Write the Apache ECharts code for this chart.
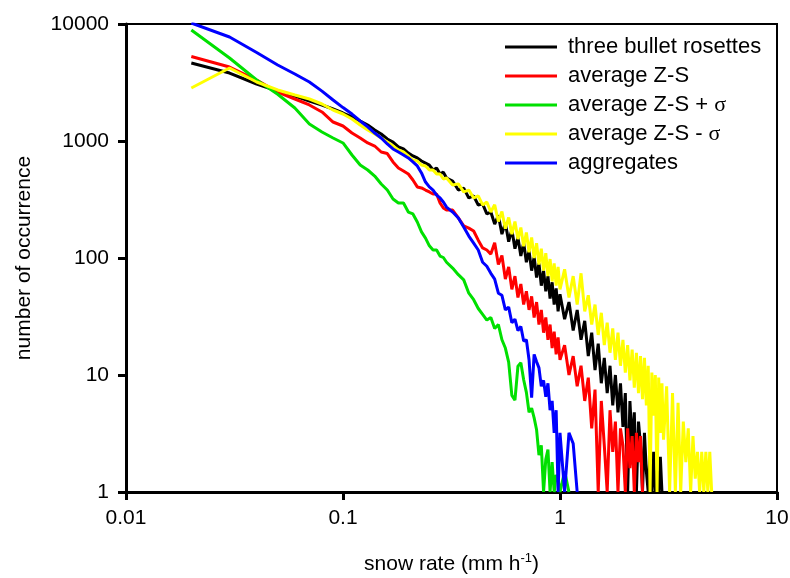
<!DOCTYPE html>
<html>
<head>
<meta charset="utf-8">
<script src="https://cdn.jsdelivr.net/npm/echarts@6/dist/echarts.min.js"></script>
<style>
  html, body { margin: 0; padding: 0; background: #fff; }
  #chart { width: 790px; height: 578px; }
</style>
</head>
<body>
<div id="chart"></div>
<script>
// bin centres of snow rate (mm/h)
var snowRate = [
  0.02, 0.03, 0.04, 0.05, 0.06, 0.07, 0.08, 0.09, 0.10,
  0.11, 0.12, 0.13, 0.14, 0.15, 0.16, 0.17, 0.18, 0.19, 0.20,
  0.21, 0.22, 0.23, 0.24, 0.25, 0.26, 0.27, 0.28, 0.29, 0.30,
  0.32, 0.34, 0.36, 0.38, 0.40, 0.42, 0.44, 0.46, 0.48, 0.50,
  0.52, 0.54, 0.56, 0.58, 0.60, 0.62, 0.64, 0.66, 0.68, 0.70,
  0.72, 0.74, 0.76, 0.78, 0.80, 0.82, 0.84, 0.86, 0.88, 0.90,
  0.92, 0.94, 0.96, 0.98, 1.00,
  1.05, 1.10, 1.15, 1.20, 1.25, 1.30, 1.35, 1.40, 1.45, 1.50,
  1.55, 1.60, 1.65, 1.70, 1.75, 1.80, 1.85, 1.90, 1.95, 2.00,
  2.05, 2.10, 2.15, 2.20, 2.25, 2.30, 2.35, 2.40, 2.45, 2.50,
  2.55, 2.60, 2.65, 2.70, 2.75, 2.80, 2.85, 2.90, 2.95, 3.00,
  3.1, 3.2, 3.3, 3.4, 3.5, 3.6, 3.7, 3.8, 3.9, 4.0,
  4.1, 4.2, 4.3, 4.4, 4.5, 4.6, 4.7, 4.8, 4.9, 5.0
];

// number of occurrence per bin (same order as snowRate)
var rosettes = [
  4640, 3810, 3070, 2675, 2425, 2197, 2032, 1877, 1735,
  1604, 1483, 1370, 1241, 1148, 1040, 980, 889, 855, 789,
  745, 716, 675, 648, 623, 565, 588, 522, 542, 483,
  455, 381, 396, 326, 339, 284, 290, 238, 247, 195,
  232, 160, 200, 138, 175, 120, 150, 104, 135, 92,
  115, 78, 102, 68, 90, 58, 78, 52, 70, 45,
  62, 40, 55, 35, 49,
  30, 42, 24, 36, 20, 29, 14.5, 23, 11, 18.5,
  8.5, 14, 7, 12, 5.5, 10, 4.8, 8.5, 3.6, 7,
  1, 6, 2.5, 4.8, 1, 4, 2.5, 1, 3.2, 1.5,
  1, 2.2, 1, 2.2, 1, 1.5, 1, 2, 1
];
var avgZS = [
  5275, 4290, 3320, 2623, 2286, 2032, 1770, 1453, 1343,
  1170, 1061, 962, 906, 805, 781, 662, 588, 554, 522,
  464, 405, 397, 381, 367, 352, 352, 295, 268, 257,
  257, 220, 188, 180, 170, 142, 122, 117, 108, 135,
  88, 105, 66, 84, 54, 70, 46, 60, 40, 52,
  36, 47, 31, 42, 27, 36, 23, 31, 20, 27,
  17, 23.5, 15, 21, 13.5,
  18, 10, 14.5, 8, 12, 6, 9.5, 3.5, 7.5, 1,
  6, 2.5, 1, 5, 2.2, 4, 1, 3.5, 2.5, 1,
  3.5, 1.6, 3, 1, 3.2, 1.8, 3, 1
];
var avgZSPlus = [
  8890, 5120, 3320, 2510, 1915, 1400, 1194, 1061, 962,
  759, 623, 565, 502, 429, 381, 319, 295, 295, 247,
  238, 203, 167, 148, 127, 117, 117, 104, 101, 92,
  82, 72, 65, 50, 44, 37, 33, 29.5, 31, 25,
  27, 20, 17, 12.9, 6.7, 6.1, 11.9, 12.7, 9.1, 7.1,
  4.8, 5.2, 4.3, 3.4, 2.07, 2.5, 1, 1.9, 2.3, 1,
  1.8, 1, 1.4, 1.27, 1,
  1.5, 1
];
var avgZSMinus = [
  2840, 4205, 3194, 2730, 2473, 2286, 2071, 1840, 1701,
  1542, 1370, 1241, 1148, 1061, 980, 906, 838, 806, 745,
  688, 675, 623, 611, 565, 565, 522, 522, 473, 483,
  421, 430, 367, 381, 326, 339, 284, 301, 247, 285,
  205, 250, 178, 222, 160, 205, 145, 182, 126, 165,
  112, 150, 100, 134, 88, 120, 78, 110, 70, 98,
  63, 90, 58, 84, 54,
  80, 46, 70, 40, 74, 35, 48, 27, 40, 22,
  34, 18, 28, 15.5, 25, 13.5, 23, 12, 20, 10.5,
  18, 9, 16.5, 7.8, 15.5, 7, 14.5, 6.2, 14, 5.5,
  12, 1, 10.5, 4.5, 10, 1, 9.5, 3.2, 8.5, 2.8,
  8, 1, 7, 1, 5.8, 1, 4, 1.8, 3.5, 1,
  3, 1.3, 2.2, 1, 2.2, 1, 2.2, 1, 2.2, 1
];
var aggregates = [
  10200, 7740, 5700, 4460, 3740, 3190, 2670, 2240, 1930,
  1700, 1483, 1320, 1170, 1060, 943, 855, 805, 760, 716,
  662, 612, 533, 446, 405, 381, 345, 326, 301, 272,
  247, 220, 184, 154, 134, 117, 92, 85, 74, 66,
  50, 48, 36, 38, 28, 30, 24, 26, 19.5, 20,
  13.5, 6.4, 15, 13, 11.5, 8, 9, 6.5, 8.5, 5,
  6, 3.2, 5, 1, 3.2,
  1, 3.2, 2.6, 1
];

var names = ['three bullet rosettes', 'average Z-S', 'average Z-S + σ', 'average Z-S - σ', 'aggregates'];
var colors = ['#000000', '#ff0000', '#00e000', '#ffff00', '#0000ff'];
var values = [rosettes, avgZS, avgZSPlus, avgZSMinus, aggregates];

var font = '"Liberation Sans", Arial, sans-serif';

function pairs(arr) {
  return arr.map(function (v, i) { return [snowRate[i], v]; });
}

var series = names.map(function (n, k) {
  return {
    name: n,
    type: 'line',
    data: pairs(values[k]),
    symbol: 'none',
    showSymbol: false,
    clip: true,
    itemStyle: { color: colors[k] },
    lineStyle: { color: colors[k], width: 3 }
  };
});

var chart = echarts.init(document.getElementById('chart'));
chart.setOption({
  animation: false,
  backgroundColor: '#fff',
  grid: {
    left: 126, right: 13, top: 24, bottom: 86,
    outerBoundsMode: 'none',
    show: true, borderColor: '#000', borderWidth: 2
  },
  legend: {
    data: names,
    orient: 'vertical',
    left: 500,
    top: 31,
    icon: 'rect',
    itemWidth: 52,
    itemHeight: 3,
    itemGap: 7,
    formatter: function (n) { return n.replace('σ', '{s|σ}'); },
    textStyle: {
      fontFamily: font, fontSize: 22, color: '#000', lineHeight: 22,
      padding: [0, 0, 0, 6],
      rich: { s: { fontFamily: '"Liberation Serif", serif', fontSize: 22, color: '#000' } }
    }
  },
  xAxis: {
    type: 'log',
    logBase: 10,
    min: 0.01,
    max: 10,
    name: 'snow rate (mm h{sup|-1})',
    nameLocation: 'middle',
    nameGap: 60,
    nameTextStyle: {
      fontFamily: font, fontSize: 21, color: '#000', lineHeight: 24,
      rich: { sup: { fontFamily: font, fontSize: 13, color: '#000', verticalAlign: 'top', lineHeight: 14 } }
    },
    axisLine: { lineStyle: { color: '#000', width: 3 } },
    axisTick: { show: true, inside: false, length: 8, lineStyle: { color: '#000', width: 3 } },
    minorTick: { show: false },
    splitLine: { show: false },
    axisLabel: {
      fontFamily: font, fontSize: 21, color: '#000', margin: 16,
      formatter: function (v) { return String(+v.toPrecision(4)); }
    }
  },
  yAxis: {
    type: 'log',
    logBase: 10,
    min: 1,
    max: 10000,
    name: 'number of occurrence',
    nameLocation: 'middle',
    nameGap: 91,
    nameTextStyle: { fontFamily: font, fontSize: 21, color: '#000' },
    axisLine: { lineStyle: { color: '#000', width: 3 } },
    axisTick: { show: true, inside: false, length: 8, lineStyle: { color: '#000', width: 3 } },
    minorTick: { show: false },
    splitLine: { show: false },
    axisLabel: {
      fontFamily: font, fontSize: 21, color: '#000', margin: 17,
      formatter: function (v) { return String(Math.round(v)); }
    }
  },
  series: series
});
</script>
</body>
</html>
